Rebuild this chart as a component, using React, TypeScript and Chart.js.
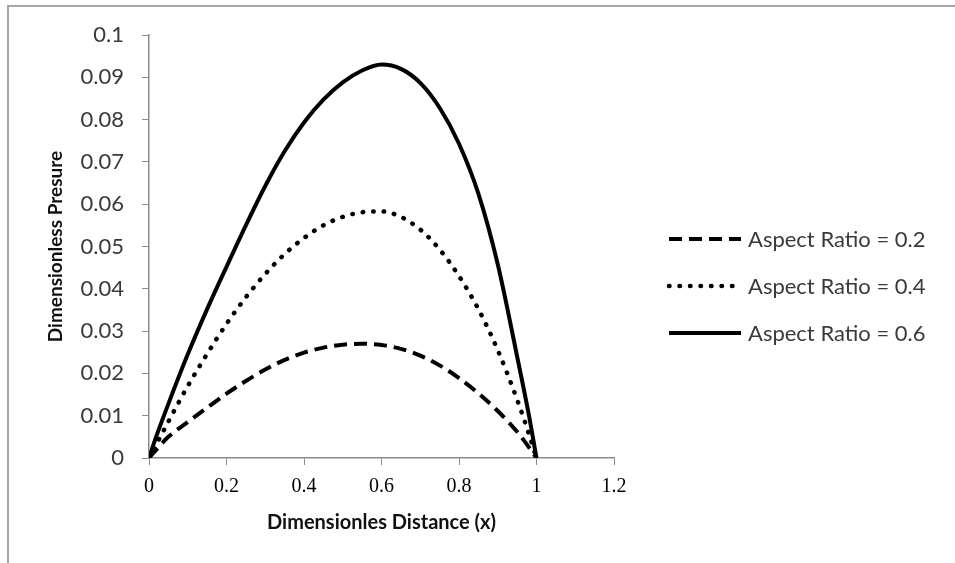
import React, { useEffect, useRef } from "react";
import { Chart, registerables } from "chart.js";

Chart.register(...registerables);

const xValues = [0, 0.02, 0.05, 0.1, 0.15, 0.2, 0.25, 0.3, 0.35, 0.4, 0.45, 0.5, 0.55, 0.6, 0.65, 0.7, 0.75, 0.8, 0.85, 0.9, 0.95, 0.98, 1];
const aspect02 = [0, 0.0021, 0.005, 0.0085, 0.0119, 0.0152, 0.0182, 0.0209, 0.0232, 0.0249, 0.0261, 0.0268, 0.027, 0.0267, 0.0258, 0.0242, 0.0219, 0.0189, 0.0153, 0.0111, 0.0062, 0.0026, 0];
const aspect04 = [0, 0.0034, 0.0086, 0.017, 0.0246, 0.0317, 0.038, 0.0435, 0.0482, 0.052, 0.055, 0.057, 0.0581, 0.0583, 0.057, 0.054, 0.0493, 0.043, 0.0352, 0.0255, 0.0138, 0.0058, 0];
const aspect06 = [0, 0.0054, 0.0128, 0.0245, 0.0352, 0.0452, 0.055, 0.0643, 0.0725, 0.0793, 0.0847, 0.0888, 0.0916, 0.093, 0.092, 0.0887, 0.0828, 0.0743, 0.0625, 0.0458, 0.024, 0.0103, 0];
const seriesLabels = ["Aspect Ratio = 0.2", "Aspect Ratio = 0.4", "Aspect Ratio = 0.6"];
const xTickValues = [0, 0.2, 0.4, 0.6, 0.8, 1, 1.2];
const yTickValues = [0, 0.01, 0.02, 0.03, 0.04, 0.05, 0.06, 0.07, 0.08, 0.09, 0.1];
const xTitle = "Dimensionles Distance (x)";
const yTitle = "Dimensionless Presure";

const W = 955;
const H = 563;
const PLOT = { left: 149, top: 35, right: 614, bottom: 458 };
const LEGEND = { lineX: 669, lineLen: 72, textX: 748, rowY: [239, 286, 333] };
const TEXT_COLOR = "#3a3a3a";
const AXIS_COLOR = "#8c8c8c";

const toPoints = (ys: number[]) => xValues.map((x, i) => ({ x, y: ys[i] }));

const legendPlugin = {
  id: "sideLegend",
  afterDraw(chart: any) {
    const ctx = chart.ctx as CanvasRenderingContext2D;
    chart.data.datasets.forEach((ds: any, i: number) => {
      const y = LEGEND.rowY[i];
      ctx.save();
      ctx.strokeStyle = ds.borderColor;
      ctx.lineWidth = ds.borderWidth;
      ctx.lineCap = ds.borderCapStyle || "butt";
      ctx.setLineDash(ds.borderDash || []);
      ctx.beginPath();
      ctx.moveTo(LEGEND.lineX, y);
      ctx.lineTo(LEGEND.lineX + LEGEND.lineLen, y);
      ctx.stroke();
      ctx.setLineDash([]);
      ctx.fillStyle = TEXT_COLOR;
      ctx.font = "22px Lato";
      ctx.textBaseline = "middle";
      ctx.textAlign = "left";
      ctx.fillText(ds.label, LEGEND.textX, y + 1);
      ctx.restore();
    });
  },
};

export default function App() {
  const canvasRef = useRef<HTMLCanvasElement | null>(null);

  useEffect(() => {
    if (!canvasRef.current) return;
    const chart = new Chart(canvasRef.current, {
      type: "line",
      data: {
        datasets: [
          {
            label: seriesLabels[0],
            data: toPoints(aspect02),
            borderColor: "#000",
            borderWidth: 4,
            borderDash: [13, 7],
            borderCapStyle: "butt",
            pointRadius: 0,
            cubicInterpolationMode: "monotone",
            fill: false,
          },
          {
            label: seriesLabels[1],
            data: toPoints(aspect04),
            borderColor: "#000",
            borderWidth: 4.5,
            borderDash: [0.5, 10],
            borderCapStyle: "round",
            pointRadius: 0,
            cubicInterpolationMode: "monotone",
            fill: false,
          },
          {
            label: seriesLabels[2],
            data: toPoints(aspect06),
            borderColor: "#000",
            borderWidth: 4,
            pointRadius: 0,
            cubicInterpolationMode: "monotone",
            fill: false,
          },
        ],
      },
      options: {
        animation: false,
        responsive: false,
        devicePixelRatio: 1,
        layout: { padding: { left: 0, top: PLOT.top, right: W - PLOT.right, bottom: 0 } },
        plugins: { legend: { display: false }, tooltip: { enabled: false } },
        scales: {
          x: {
            type: "linear",
            min: 0,
            max: 1.2,
            afterFit: (scale: any) => {
              scale.height = H - PLOT.bottom;
            },
            afterBuildTicks: (scale: any) => {
              scale.ticks = xTickValues.map((v) => ({ value: v }));
            },
            ticks: {
              color: "#000",
              font: { family: "'Liberation Serif'", size: 20 },
              padding: 10,
              maxRotation: 0,
              callback: (v: any) => String(Number(Number(v).toFixed(1))),
            },
            grid: { drawOnChartArea: false, drawTicks: true, tickLength: 7, color: AXIS_COLOR },
            border: { display: true, color: AXIS_COLOR, width: 1.5 },
            title: {
              display: true,
              text: xTitle,
              color: "#111",
              font: { family: "Lato", size: 20, weight: "bold" },
              padding: { top: 0, bottom: 28 },
            },
          },
          y: {
            type: "linear",
            min: 0,
            max: 0.1,
            afterFit: (scale: any) => {
              scale.width = PLOT.left;
            },
            afterBuildTicks: (scale: any) => {
              scale.ticks = yTickValues.map((v) => ({ value: v }));
            },
            ticks: {
              color: TEXT_COLOR,
              font: { family: "Lato", size: 22 },
              padding: 18,
              callback: (v: any) => String(Number(Number(v).toFixed(2))),
            },
            grid: { drawOnChartArea: false, drawTicks: true, tickLength: 7, color: AXIS_COLOR },
            border: { display: true, color: AXIS_COLOR, width: 1.5 },
            title: {
              display: true,
              text: yTitle,
              color: "#111",
              font: { family: "Lato", size: 19, weight: "bold" },
              padding: { top: 44, bottom: 0 },
            },
          },
        },
      },
      plugins: [legendPlugin],
    });
    return () => chart.destroy();
  }, []);

  return (
    <div style={{ position: "fixed", left: 0, top: 0, width: W, height: H, background: "#fff", overflow: "hidden" }}>
      <div
        style={{
          position: "absolute",
          left: 7,
          top: 5,
          right: -4,
          bottom: -4,
          borderTop: "2px solid #a6a6a6",
          borderLeft: "2px solid #a6a6a6",
        }}
      />
      <canvas ref={canvasRef} width={W} height={H} style={{ position: "absolute", left: 0, top: 0 }} />
    </div>
  );
}
